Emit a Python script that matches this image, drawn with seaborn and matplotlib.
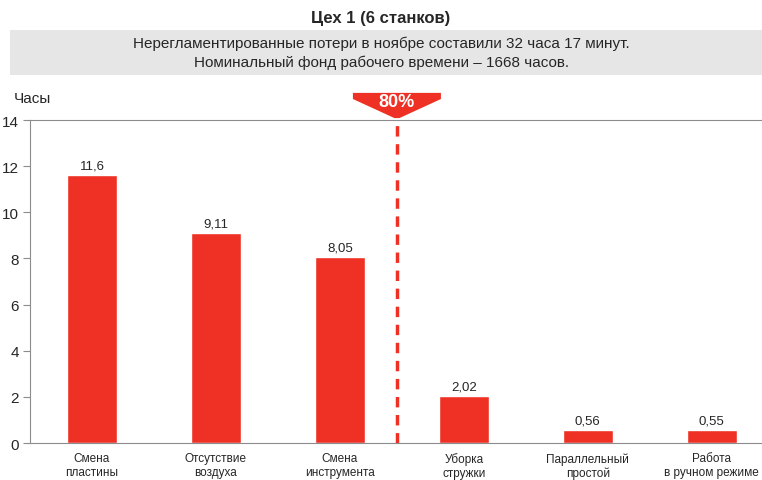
import matplotlib
matplotlib.use("Agg")
import matplotlib.pyplot as plt
import seaborn as sns
import pandas as pd
from matplotlib.patches import Rectangle, Polygon

# ---------------- DATA ----------------
categories = ["Смена\nпластины", "Отсутствие\nвоздуха", "Смена\nинструмента",
              "Уборка\nстружки", "Параллельный\nпростой", "Работа\nв ручном режиме"]
hours = [11.6, 9.11, 8.05, 2.02, 0.56, 0.55]
value_labels = ["11,6", "9,11", "8,05", "2,02", "0,56", "0,55"]
y_ticks = [0, 2, 4, 6, 8, 10, 12, 14]

title = "Цех 1 (6 станков)"
subtitle = ("Нерегламентированные потери в ноябре составили 32 часа 17 минут.\n"
            "Номинальный фонд рабочего времени – 1668 часов.")
pareto_label = "80%"
pareto_pos = 2.46

RED = "#EE3124"
GRID = "#8c8c8c"

# ---------------- STYLE ----------------
sns.set_style("white")
plt.rcParams["font.family"] = ["Liberation Sans", "DejaVu Sans"]

df = pd.DataFrame({"cat": categories, "hours": hours})

fig = plt.figure(figsize=(7.62, 4.81), dpi=100)
ax = fig.add_axes([0.0394, 0.0769, 0.976, 0.6715])

sns.barplot(data=df, x="cat", y="hours", color=RED, width=0.40,
            saturation=1, ax=ax)

for i, (v, lab) in enumerate(zip(hours, value_labels)):
    ax.text(i, v + 0.15, lab, ha="center", va="bottom", fontsize=9.5)

ax.set_ylim(0, 14)
ax.set_xlim(-0.5, 5.5)
ax.set_yticks(y_ticks)
ax.set_yticklabels([str(t) for t in y_ticks], fontsize=11)
ax.set_xlabel("")
ax.set_ylabel("")

# category tick marks at the boundaries, labels centred under bars
ax.set_xticks(range(len(categories)))
ax.set_xticklabels(categories, fontsize=8.5, linespacing=1.25)
ax.tick_params(axis="x", length=0, pad=6.5)
ax.set_xticks([i - 0.5 for i in range(1, len(categories))], minor=True)
ax.tick_params(axis="x", which="minor", length=5, color=GRID, direction="out")
ax.tick_params(axis="y", length=5, color=GRID, direction="out", left=True, pad=3)

ax.spines["right"].set_visible(False)
for s in ["top", "left", "bottom"]:
    ax.spines[s].set_color(GRID)

# pareto line
ax.axvline(pareto_pos, color=RED, lw=2.5, ls=(0, (3, 2.2)))

# 80% flag above the axes
trans = ax.get_xaxis_transform()
half = 0.355
flag = Polygon([(pareto_pos - half, 1.084), (pareto_pos + half, 1.084),
                (pareto_pos + half, 1.065), (pareto_pos + 0.02, 1.006),
                (pareto_pos - 0.02, 1.006), (pareto_pos - half, 1.065)],
               closed=True, transform=trans, clip_on=False,
               facecolor=RED, edgecolor="none")
ax.add_patch(flag)
ax.text(pareto_pos, 1.057, pareto_label, transform=trans, ha="center",
        va="center", color="white", fontsize=13, fontweight="bold")

# y-axis caption
fig.text(0.018, 0.795, "Часы", fontsize=11, ha="left", va="center")

# header
fig.text(0.5, 0.962, title, ha="center", va="center", fontsize=12,
         fontweight="bold")
fig.patches.append(Rectangle((0.013, 0.842), 0.987, 0.094,
                             transform=fig.transFigure, facecolor="#e6e6e6",
                             edgecolor="none"))
fig.text(0.5, 0.889, subtitle, ha="center", va="center", fontsize=11,
         linespacing=1.45)

fig.savefig("out.png", dpi=100)
